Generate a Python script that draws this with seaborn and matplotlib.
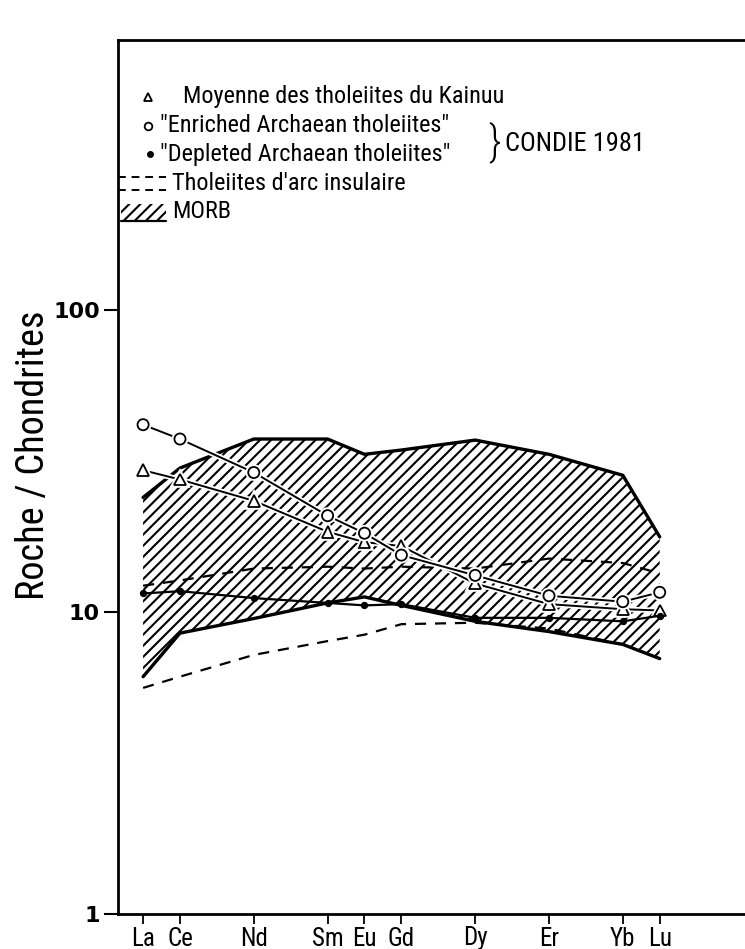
import matplotlib
matplotlib.use("Agg")
import matplotlib.pyplot as plt
import matplotlib.patheffects as pe
from matplotlib.patches import Rectangle
from matplotlib.lines import Line2D
from matplotlib import font_manager
import pandas as pd
import seaborn as sns

# Rare-earth elements, placed along x by atomic number
elements = ["La", "Ce", "Nd", "Sm", "Eu", "Gd", "Dy", "Er", "Yb", "Lu"]
atomic_number = [57, 58, 60, 62, 63, 64, 66, 68, 70, 71]

# Chondrite-normalised abundances
kainuu = [29.4, 27.4, 23.3, 18.4, 17.0, 16.5, 12.4, 10.6, 10.2, 10.1]
enriched = [41.6, 37.3, 28.9, 20.8, 18.2, 15.4, 13.2, 11.3, 10.8, 11.6]
depleted = [11.5, 11.7, 11.1, 10.7, 10.5, 10.6, 9.55, 9.55, 9.3, 9.7]

# MORB field and island-arc tholeiite envelope
morb_upper = [23.9, 29.9, 37.3, 37.3, 33.2, 34.3, 37.0, 33.2, 28.3, 17.7]
morb_lower = [6.1, 8.5, 9.5, 10.7, 11.2, 10.5, 9.3, 8.6, 7.8, 7.0]
arc_upper = [12.2, 12.7, 13.9, 14.1, 13.9, 14.1, 13.9, 15.0, 14.5, 13.4]
arc_lower = [5.6, 6.1, 7.2, 8.0, 8.4, 9.1, 9.2, 8.8, 7.8, 7.0]

y_ticks = [1, 10, 100]
y_tick_labels = ["1", "10", "100"]

df = pd.DataFrame({
    "Z": atomic_number, "element": elements,
    "kainuu": kainuu, "enriched": enriched, "depleted": depleted,
    "morb_upper": morb_upper, "morb_lower": morb_lower,
    "arc_upper": arc_upper, "arc_lower": arc_lower,
})

sns.set_style("ticks")
installed = {f.name for f in font_manager.fontManager.ttflist}
condensed = [n for n in ["Roboto Condensed", "Liberation Sans Narrow", "DejaVu Sans Condensed",
                         "Roboto", "DejaVu Sans"] if n in installed] or ["DejaVu Sans"]
narrow = condensed[:1] + ["DejaVu Sans"]
plt.rcParams["font.family"] = narrow
plt.rcParams["hatch.linewidth"] = 1.5
plt.rcParams["hatch.color"] = "black"
for key in ["text.color", "axes.labelcolor", "xtick.color", "ytick.color", "axes.edgecolor"]:
    plt.rcParams[key] = "black"

W, H = 745, 949
fig = plt.figure(figsize=(W / 100, H / 100), dpi=100)
fig.patch.set_facecolor("white")


def fx(px):
    return px / W


def fy(py):
    return 1 - py / H


ax_left, ax_right, ax_top, ax_bottom = 118, 760, 40, 914
ax = fig.add_axes([fx(ax_left), fy(ax_bottom), fx(ax_right - ax_left), (ax_bottom - ax_top) / H])

# MORB hatched field
ax.fill_between(df["Z"], df["morb_lower"], df["morb_upper"], facecolor="white",
                edgecolor="black", hatch="///", linewidth=0, zorder=1)
for col in ["morb_upper", "morb_lower"]:
    sns.lineplot(data=df, x="Z", y=col, ax=ax, color="black", linewidth=2.4,
                 zorder=2, legend=False)

# Island-arc tholeiites envelope
for col in ["arc_upper", "arc_lower"]:
    sns.lineplot(data=df, x="Z", y=col, ax=ax, color="black", linewidth=1.6,
                 linestyle=(0, (5, 4)), zorder=3, legend=False)

halo = [pe.Stroke(linewidth=4.0, foreground="white"), pe.Normal()]
sns.lineplot(data=df, x="Z", y="enriched", ax=ax, color="black", linewidth=1.4,
             marker="o", markersize=8, markerfacecolor="white", markeredgecolor="black",
             markeredgewidth=1.3, zorder=5, path_effects=halo, legend=False)
sns.lineplot(data=df, x="Z", y="kainuu", ax=ax, color="black", linewidth=1.4,
             marker="^", markersize=8.5, markerfacecolor="white", markeredgecolor="black",
             markeredgewidth=1.3, zorder=4, path_effects=halo, legend=False)
sns.lineplot(data=df, x="Z", y="depleted", ax=ax, color="black", linewidth=1.6,
             marker="o", markersize=4.5, markerfacecolor="black", markeredgecolor="black",
             zorder=4, legend=False)

ax.set_yscale("log")
ax.set_ylim(1, 780)
ax.set_xlim(56.32, 56.32 + (ax_right - ax_left) / 36.9)
ax.set_yticks(y_ticks)
ax.set_yticklabels(y_tick_labels, fontfamily="DejaVu Sans", fontweight="bold", fontsize=16)
ax.yaxis.set_minor_locator(matplotlib.ticker.NullLocator())
ax.set_xticks(atomic_number)
ax.set_xticklabels(elements, fontsize=18)
ax.tick_params(axis="y", direction="out", length=10, width=1.5, pad=3)
ax.tick_params(axis="x", direction="out", length=7, width=1.3, pad=2)
ax.set_xlabel("")
ax.set_ylabel("Roche / Chondrites", fontsize=27.5)
ax.yaxis.set_label_coords(-(118 - 52) / (ax_right - ax_left), (ax_bottom - 455) / (ax_bottom - ax_top))
for side in ["left", "top", "bottom"]:
    ax.spines[side].set_linewidth(2)
ax.spines["right"].set_visible(False)

# Legend, drawn by hand in figure pixels
tf = fig.transFigure
fs = 17.5
fig.add_artist(Line2D([fx(148)], [fy(97)], marker="^", markersize=5.5, markerfacecolor="white",
                      markeredgecolor="black", markeredgewidth=1.3, linestyle="none", transform=tf))
fig.text(fx(183), fy(97), "Moyenne des tholeiites du Kainuu", fontsize=fs, va="center", transform=tf)
fig.add_artist(Line2D([fx(148)], [fy(126)], marker="o", markersize=5.5, markerfacecolor="white",
                      markeredgecolor="black", markeredgewidth=1.3, linestyle="none", transform=tf))
fig.text(fx(160), fy(126), '"Enriched Archaean tholeiites"', fontsize=fs, va="center", transform=tf)
fig.add_artist(Line2D([fx(150)], [fy(154)], marker="o", markersize=4, markerfacecolor="black",
                      markeredgecolor="black", linestyle="none", transform=tf))
fig.text(fx(160), fy(154), '"Depleted Archaean tholeiites"', fontsize=fs, va="center", transform=tf)
fig.text(fx(488), fy(143), "}", fontsize=30, va="center", ha="left", transform=tf,
         fontweight="light")
fig.text(fx(505), fy(144), "CONDIE 1981", fontsize=fs + 1.5, va="center", transform=tf)
for yy in (177, 190):
    fig.add_artist(Line2D([fx(118), fx(166)], [fy(yy), fy(yy)], color="black", linewidth=1.4,
                          linestyle=(0, (4, 3)), transform=tf))
fig.text(fx(172), fy(183), "Tholeiites d'arc insulaire", fontsize=fs, va="center", transform=tf)
fig.add_artist(Rectangle((fx(121), fy(221)), fx(45), 17 / H, facecolor="white", edgecolor="black",
                         hatch="///", linewidth=0, transform=tf))
fig.add_artist(Line2D([fx(121), fx(166)], [fy(221), fy(221)], color="black", linewidth=1.6, transform=tf))
fig.text(fx(172), fy(212), "MORB", fontsize=fs, va="center", transform=tf)

fig.savefig("out.png", dpi=100, facecolor="white")
